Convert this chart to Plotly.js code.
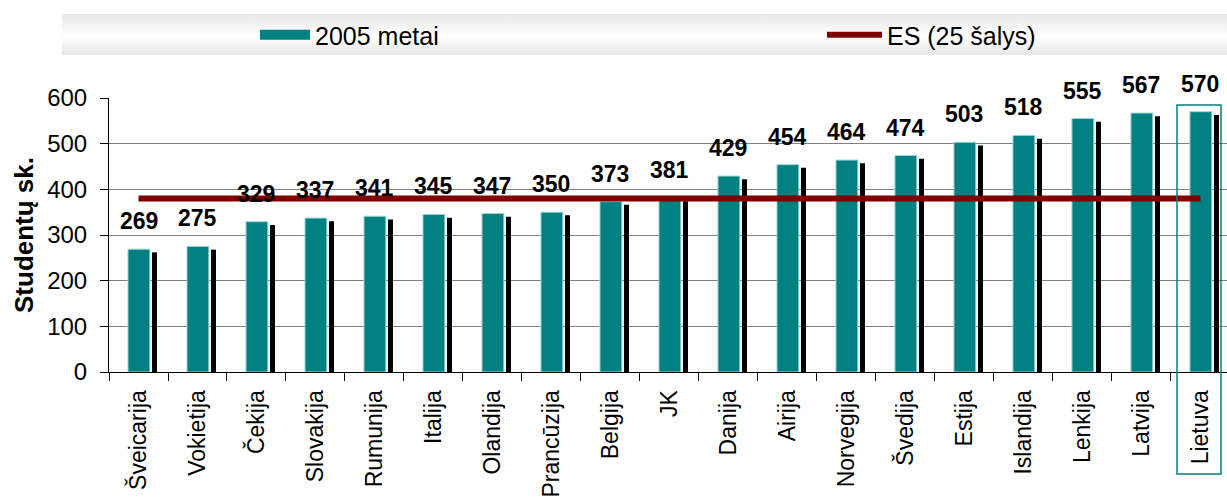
<!DOCTYPE html>
<html>
<head>
<meta charset="utf-8">
<script src="https://cdn.plot.ly/plotly-3.0.1.min.js"></script>
<style>
  html, body { margin: 0; padding: 0; background: #ffffff; }
  #band { position: absolute; left: 62px; top: 14px; width: 1165px; height: 41px;
          background: linear-gradient(to bottom, #e6e6e6 0%, #fbfbfb 45%, #ffffff 55%, #e6e6e6 100%); z-index: 0; }
  #chart { position: relative; width: 1227px; height: 498px; z-index: 1; }
</style>
</head>
<body>
<div id="band"></div>
<div id="chart"></div>
<script>
const categories = ["Šveicarija", "Vokietija", "Čekija", "Slovakija", "Rumunija", "Italija", "Olandija",
  "Prancūzija", "Belgija", "JK", "Danija", "Airija", "Norvegija", "Švedija", "Estija", "Islandija",
  "Lenkija", "Latvija", "Lietuva"];
const values2005 = [269, 275, 329, 337, 341, 345, 347, 350, 373, 381, 429, 454, 464, 474, 503, 518, 555, 567, 570];
const euAverage = 380;
const seriesName = "2005 metai";
const euName = "ES (25 šalys)";
const yTicks = [0, 100, 200, 300, 400, 500, 600];

const FONT = "Liberation Sans, Arial, sans-serif";
const TEAL = "#008080";

const bars = {
  type: "bar", x: categories, y: values2005, name: seriesName, showlegend: false,
  width: 0.37, offset: -0.178,
  marker: { color: TEAL, line: { color: "#9fd3d3", width: 1 } },
  hoverinfo: "x+y"
};
const shadow = {
  type: "bar", x: categories, y: values2005, base: -7, showlegend: false,
  width: 0.085, offset: 0.229,
  marker: { color: "#000000", line: { width: 0 } }, hoverinfo: "skip"
};
// legend swatch for the bar series (wide teal block as in the original legend); draws nothing
const barLegend = {
  type: "scatter", mode: "lines", name: seriesName, x: [categories[0]], y: [null],
  line: { color: TEAL, width: 12 }, showlegend: true, hoverinfo: "skip", legend: "legend"
};
const eu = {
  type: "scatter", mode: "lines", name: euName, legend: "legend2",
  x: [categories[0], categories[categories.length - 1]], y: [euAverage, euAverage],
  line: { color: "#800000", width: 6 }, cliponaxis: false
};

const annotations = categories.map((c, i) => ({
  x: c, y: values2005[i], xref: "x", yref: "y", text: String(values2005[i]),
  showarrow: false, yanchor: "middle", yshift: 28,
  font: { family: FONT, size: 23, color: "#000000", weight: "bold" }
}));

const legendCommon = {
  orientation: "h", xref: "container", yref: "container",
  xanchor: "left", y: 1 - 35 / 498, yanchor: "middle",
  bgcolor: "rgba(0,0,0,0)",
  font: { family: FONT, size: 25, color: "#000000" }
};

const layout = {
  width: 1227, height: 498,
  margin: { l: 109, r: 0, t: 98, b: 126 },
  paper_bgcolor: "rgba(0,0,0,0)", plot_bgcolor: "rgba(0,0,0,0)",
  barmode: "overlay",
  showlegend: true,
  legend: Object.assign({}, legendCommon, { x: 255 / 1227, itemwidth: 50 }),
  legend2: Object.assign({}, legendCommon, { x: 822 / 1227, itemwidth: 55 }),
  xaxis: {
    type: "category", range: [-0.5, 18.45], tickson: "boundaries",
    ticks: "outside", ticklen: 8, tickcolor: "#000000", tickwidth: 1,
    showline: true, linecolor: "#000000", linewidth: 1, showgrid: false,
    tickangle: -90, tickfont: { family: FONT, size: 23, color: "#000000" },
    ticklabelstandoff: 8, fixedrange: true
  },
  yaxis: {
    range: [0, 600], tickvals: yTicks, ticktext: yTicks.map(String),
    ticks: "outside", ticklen: 8, tickcolor: "#000000", tickwidth: 1,
    showline: true, linecolor: "#000000", linewidth: 1,
    showgrid: true, gridcolor: "#808080", gridwidth: 1, zeroline: false,
    tickfont: { family: FONT, size: 24, color: "#000000" },
    ticklabelstandoff: 8,
    title: { text: "Studentų sk.", font: { family: FONT, size: 26, color: "#000000", weight: "bold" }, standoff: 6 },
    fixedrange: true
  },
  annotations: annotations,
  shapes: [{
    type: "rect", xref: "paper", yref: "paper",
    x0: (1177 - 109) / 1118, x1: (1221 - 109) / 1118,
    y0: (372 - 474) / 274, y1: (372 - 105) / 274,
    line: { color: TEAL, width: 1.5 }, fillcolor: "rgba(0,0,0,0)"
  }]
};

Plotly.newPlot("chart", [bars, shadow, barLegend, eu], layout, { displayModeBar: false, staticPlot: true });
</script>
</body>
</html>
